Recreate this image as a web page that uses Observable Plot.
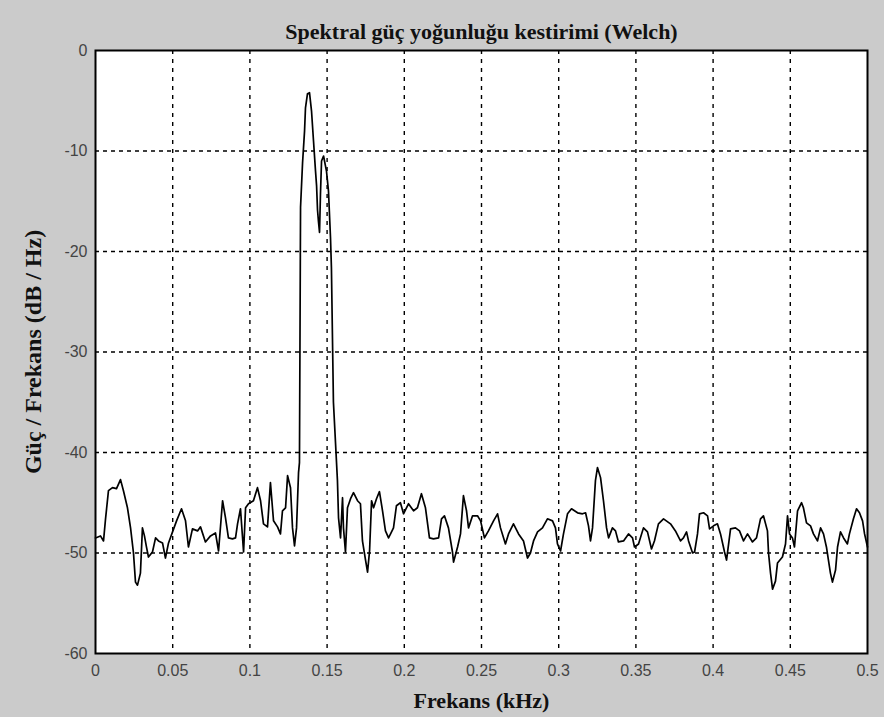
<!DOCTYPE html>
<html>
<head>
<meta charset="utf-8">
<script src="https://cdn.jsdelivr.net/npm/d3@7"></script>
<script src="https://cdn.jsdelivr.net/npm/@observablehq/plot@0.6"></script>
<style>
  html, body { margin: 0; padding: 0; background: #cbcbcb; }
  #chart { width: 884px; height: 717px; }
</style>
</head>
<body>
<div id="chart"></div>
<script>
const titleText = "Spektral güç yoğunluğu kestirimi (Welch)";
const xLabelText = "Frekans (kHz)";
const yLabelText = "Güç / Frekans (dB / Hz)";

const xTicks = [0, 0.05, 0.1, 0.15, 0.2, 0.25, 0.3, 0.35, 0.4, 0.45, 0.5];
const xTickLabels = ["0", "0.05", "0.1", "0.15", "0.2", "0.25", "0.3", "0.35", "0.4", "0.45", "0.5"];
const yTicks = [0, -10, -20, -30, -40, -50, -60];
const yTickLabels = ["0", "-10", "-20", "-30", "-40", "-50", "-60"];

// Frequency (kHz) and PSD (dB/Hz)
const freq = [
  0.000, 0.0032, 0.0052, 0.0065, 0.0084, 0.0110, 0.0136, 0.0162, 0.0181, 0.0207,
  0.0227, 0.0246, 0.0259, 0.0272, 0.0291, 0.0304, 0.0317, 0.0330, 0.0343, 0.0369,
  0.0389, 0.0408, 0.0434, 0.0453, 0.0473, 0.0499, 0.0525, 0.0557, 0.0583, 0.0602,
  0.0628, 0.0661, 0.0680, 0.0712, 0.0745, 0.0777, 0.0797, 0.0823, 0.0842, 0.0861,
  0.0887, 0.0907, 0.0920, 0.0939, 0.0959, 0.0972, 0.0991, 0.1023, 0.1049, 0.1069,
  0.1088, 0.1114, 0.1133, 0.1153, 0.1179, 0.1198, 0.1211, 0.1231, 0.1244, 0.1263,
  0.1276, 0.1289, 0.1302, 0.1315, 0.1321, 0.1328, 0.1341, 0.1354, 0.1360, 0.1373,
  0.1386, 0.1399, 0.1412, 0.1425, 0.1432, 0.1438, 0.1444, 0.1451, 0.1457, 0.1464,
  0.1477, 0.1496, 0.1509, 0.1522, 0.1528, 0.1541, 0.1567, 0.1574, 0.1587, 0.1600,
  0.1606, 0.1619, 0.1632, 0.1652, 0.1671, 0.1697, 0.1716, 0.1729, 0.1749, 0.1762,
  0.1775, 0.1788, 0.1801, 0.1820, 0.1839, 0.1859, 0.1878, 0.1898, 0.1911, 0.1930,
  0.1949, 0.1975, 0.1995, 0.2027, 0.2060, 0.2085, 0.2111, 0.2137, 0.2163, 0.2189,
  0.2222, 0.2241, 0.2260, 0.2286, 0.2312, 0.2319, 0.2345, 0.2364, 0.2383, 0.2403,
  0.2416, 0.2442, 0.2474, 0.2494, 0.2519, 0.2545, 0.2578, 0.2604, 0.2623, 0.2655,
  0.2675, 0.2707, 0.2740, 0.2772, 0.2798, 0.2817, 0.2837, 0.2863, 0.2895, 0.2927,
  0.2960, 0.2979, 0.2992, 0.3012, 0.3031, 0.3057, 0.3083, 0.3122, 0.3154, 0.3174,
  0.3193, 0.3206, 0.3219, 0.3238, 0.3251, 0.3271, 0.3290, 0.3310, 0.3323, 0.3348,
  0.3368, 0.3387, 0.3420, 0.3452, 0.3478, 0.3491, 0.3517, 0.3549, 0.3575, 0.3601,
  0.3620, 0.3646, 0.3679, 0.3724, 0.3756, 0.3789, 0.3808, 0.3828, 0.3841, 0.3867,
  0.3880, 0.3899, 0.3912, 0.3938, 0.3964, 0.3977, 0.4003, 0.4028, 0.4048, 0.4074,
  0.4087, 0.4113, 0.4145, 0.4171, 0.4197, 0.4223, 0.4255, 0.4281, 0.4307, 0.4326,
  0.4352, 0.4359, 0.4372, 0.4385, 0.4404, 0.4417, 0.4449, 0.4469, 0.4482, 0.4495,
  0.4514, 0.4527, 0.4547, 0.4573, 0.4585, 0.4605, 0.4631, 0.4650, 0.4676, 0.4696,
  0.4715, 0.4734, 0.4747, 0.4760, 0.4773, 0.4793, 0.4806, 0.4825, 0.4845, 0.4870,
  0.4883, 0.4909, 0.4929, 0.4948, 0.4968, 0.4981, 0.5000
];
const psd = [
  -48.5, -48.3, -48.8, -46.6, -43.8, -43.5, -43.6, -42.7, -43.8, -45.5,
  -47.5, -50.0, -52.9, -53.2, -52.0, -47.5, -48.3, -49.4, -50.4, -49.9,
  -48.5, -48.8, -49.0, -50.5, -49.0, -47.9, -46.8, -45.6, -46.8, -49.4,
  -47.6, -47.8, -47.4, -48.9, -48.3, -48.0, -49.8, -44.8, -46.5, -48.5,
  -48.6, -48.5, -47.1, -45.6, -49.9, -45.5, -45.1, -44.8, -43.5, -44.8,
  -47.1, -47.4, -43.0, -46.8, -47.4, -48.1, -45.8, -45.5, -42.3, -43.5,
  -47.5, -49.3, -47.5, -42.0, -41.0, -15.6, -11.2, -8.0, -5.7, -4.3,
  -4.2, -6.0, -9.0, -12.0, -13.5, -15.9, -17.0, -18.1, -14.3, -11.0,
  -10.5, -12.0, -14.0, -18.6, -21.6, -35.0, -42.8, -46.5, -48.5, -44.5,
  -47.5, -49.9, -45.5, -44.6, -44.0, -44.8, -45.1, -48.8, -50.7, -51.9,
  -49.8, -44.8, -45.5, -44.6, -43.9, -45.8, -47.8, -48.5, -48.1, -47.5,
  -45.3, -45.0, -46.1, -45.1, -45.8, -45.5, -44.1, -45.5, -48.5, -48.6,
  -48.5, -46.6, -46.3, -47.5, -49.9, -50.9, -49.4, -48.1, -44.3, -45.8,
  -47.5, -46.3, -46.3, -46.8, -48.5, -47.8, -46.8, -46.1, -47.5, -49.1,
  -48.1, -47.1, -48.1, -48.8, -50.5, -50.0, -48.8, -47.9, -47.5, -46.6,
  -46.8, -47.5, -49.1, -49.8, -48.1, -46.1, -45.6, -46.0, -46.1, -46.0,
  -47.3, -48.8, -47.5, -42.8, -41.5, -42.5, -44.8, -47.5, -48.5, -47.5,
  -47.8, -48.9, -48.8, -48.1, -48.5, -49.4, -49.1, -47.5, -47.9, -49.6,
  -48.8, -47.1, -46.6, -47.1, -47.8, -48.8, -48.5, -47.9, -48.8, -50.0,
  -49.9, -48.1, -46.1, -46.0, -46.3, -47.6, -47.3, -47.1, -48.1, -49.9,
  -50.7, -47.6, -47.5, -47.8, -48.8, -48.1, -48.9, -48.5, -46.6, -46.3,
  -47.8, -50.0, -52.0, -53.6, -52.8, -51.0, -50.4, -49.1, -46.3, -48.1,
  -48.5, -49.4, -45.8, -45.0, -45.5, -47.0, -47.3, -48.1, -48.8, -47.5,
  -48.1, -49.4, -50.7, -52.0, -52.9, -51.7, -49.4, -47.9, -48.5, -49.1,
  -48.1, -46.6, -45.6, -46.0, -46.8, -48.1, -49.4
];

const data = freq.map((f, i) => ({f, p: psd[i]}));

const serif = "'Liberation Serif', 'DejaVu Serif', serif";
const sans = "'Liberation Sans', Arial, sans-serif";

const chart = Plot.plot({
  width: 884,
  height: 717,
  marginLeft: 95,
  marginRight: 17,
  marginTop: 50,
  marginBottom: 64,
  style: {background: "#cbcbcb", fontFamily: sans, fontSize: "15px", color: "#444"},
  x: {domain: [0, 0.5], label: null},
  y: {domain: [-60, 0], label: null},
  marks: [
    Plot.frame({fill: "white", stroke: "none"}),
    Plot.gridX(xTicks.slice(1, -1), {stroke: "black", strokeOpacity: 1, strokeWidth: 1.4, strokeDasharray: "4,5"}),
    Plot.gridY(yTicks.slice(1, -1), {stroke: "black", strokeOpacity: 1, strokeWidth: 1.4, strokeDasharray: "4,4"}),
    Plot.line(data, {x: "f", y: "p", stroke: "black", strokeWidth: 1.7}),
    Plot.frame({stroke: "black", strokeWidth: 2}),
    Plot.axisX(xTicks, {tickSize: 0, tickPadding: 11, tickFormat: (d, i) => xTickLabels[i], fontSize: 16, fill: "#444"}),
    Plot.axisY(yTicks, {tickSize: 0, tickPadding: 8, tickFormat: (d, i) => yTickLabels[i], fontSize: 16, fill: "#444"}),
    Plot.text([titleText], {frameAnchor: "top", lineAnchor: "middle", dy: -19, fontFamily: serif, fontWeight: "bold", fontSize: 22, fill: "#111"}),
    Plot.text([xLabelText], {frameAnchor: "bottom", lineAnchor: "middle", dy: 47, fontFamily: serif, fontWeight: "bold", fontSize: 22, fill: "#111"}),
    Plot.text([yLabelText], {frameAnchor: "left", textAnchor: "middle", lineAnchor: "middle", dx: -62, rotate: -90, fontFamily: serif, fontWeight: "bold", fontSize: 24, fill: "#111"})
  ]
});
document.getElementById("chart").append(chart);
</script>
</body>
</html>
